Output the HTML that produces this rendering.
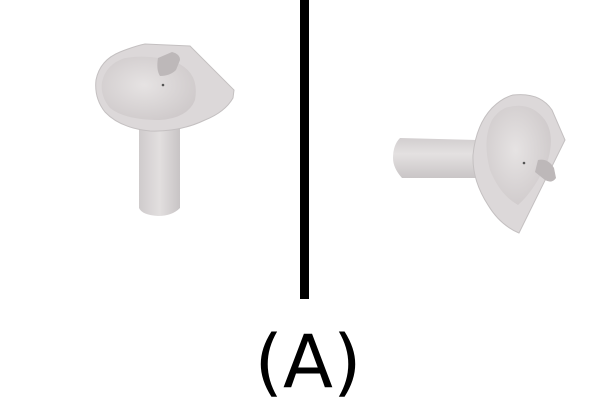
<!DOCTYPE html>
<html><head><meta charset="utf-8">
<style>
html,body{margin:0;padding:0;background:#fff;}
svg{display:block;}
</style></head>
<body>
<svg width="610" height="400" viewBox="0 0 610 400" xmlns="http://www.w3.org/2000/svg">
  <defs>
    <linearGradient id="ped" x1="0" x2="1" y1="0" y2="0">
      <stop offset="0" stop-color="#cfcbcc"/><stop offset="0.5" stop-color="#e2dfdf"/><stop offset="1" stop-color="#c8c4c5"/>
    </linearGradient>
    <linearGradient id="pedh" x1="0" x2="0" y1="0" y2="1">
      <stop offset="0" stop-color="#d2cecf"/><stop offset="0.4" stop-color="#e4e1e1"/><stop offset="1" stop-color="#c9c5c6"/>
    </linearGradient>
    <radialGradient id="bowl" cx="0.45" cy="0.45" r="0.6">
      <stop offset="0" stop-color="#e6e3e3"/><stop offset="1" stop-color="#cfcacb"/>
    </radialGradient>
  </defs>

  <g>
    <path d="M139,128 L180,128 L180,208 Q172,216 158,216 Q142,215 139,208 Z" fill="url(#ped)"/>
    <path d="M96,80 Q100,60 120,52 Q135,46 145,44 L190,46 L234,90 L233,98 Q225,112 205,120 Q180,132 150,131 Q120,128 105,112 Q94,98 96,80 Z" fill="#dcd8d9" stroke="#c4c0c1" stroke-width="1"/>
    <path d="M102,82 Q106,64 125,58 Q150,54 175,62 Q200,72 195,100 Q188,118 160,120 Q125,120 110,108 Q100,96 102,82 Z" fill="url(#bowl)"/>
    <path d="M158,58 L172,52 Q180,54 180,60 L176,70 Q170,76 160,76 Q156,70 158,58 Z" fill="#bdb8b9"/>
    <circle cx="163" cy="85" r="1.3" fill="#555"/>
  </g>

  <rect x="300" y="0" width="9" height="299" fill="#000"/>

  <g>
    <path d="M400,138 L477,140 L477,178 L402,178 Q393,168 393,158 Q393,145 400,138 Z" fill="url(#pedh)"/>
    <path d="M513,95 Q540,92 552,110 L565,140 L519,233 Q500,225 488,205 Q472,180 473,155 Q476,125 492,108 Q502,98 513,95 Z" fill="#dcd8d9" stroke="#c4c0c1" stroke-width="1"/>
    <path d="M505,108 Q530,100 545,120 Q555,135 548,160 Q535,190 518,205 Q500,195 490,170 Q482,140 492,120 Q497,112 505,108 Z" fill="url(#bowl)"/>
    <path d="M538,160 Q548,158 554,168 L556,178 Q552,184 545,180 L535,172 Z" fill="#bdb8b9"/>
    <circle cx="524" cy="163" r="1.3" fill="#555"/>
  </g>

  <text x="308" y="387" text-anchor="middle" font-family="DejaVu Sans, Liberation Sans, sans-serif" font-size="73" fill="#000">(A)</text>
</svg>
</body></html>
